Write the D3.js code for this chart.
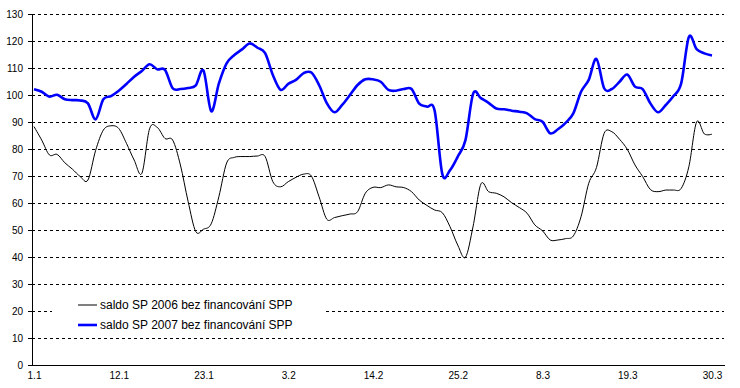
<!DOCTYPE html>
<html>
<head>
<meta charset="utf-8">
<script src="https://cdn.jsdelivr.net/npm/d3@7"></script>
<style>
  body { margin: 0; background: #fff; }
  svg { display: block; font-family: "Liberation Sans", Arial, sans-serif; }
</style>
</head>
<body>
<svg width="740" height="388"></svg>
<script>
// daily values 1.1. - 30.3.
const tickLabels = ["1.1", "12.1", "23.1", "3.2", "14.2", "25.2", "8.3", "19.3", "30.3"]
const tickEvery = 11
const seriesNames = ["saldo SP 2006 bez financování SPP", "saldo SP 2007 bez financování SPP"]

const saldo2006 = [
  88.3, 83.3, 77.8, 78.0, 74.9, 72.5, 69.8, 68.5, 79.5, 87.0,
  88.6, 87.6, 82.1, 75.9, 71.0, 87.5, 88.0, 83.9, 83.3, 74.1,
  60.6, 49.4, 50.3, 52.3, 62.4, 74.8, 76.9, 77.2, 77.2, 77.4,
  77.2, 67.9, 66.0, 67.9, 69.5, 70.7, 70.0, 62.3, 54.0, 54.6,
  55.3, 55.9, 56.8, 63.6, 65.8, 65.7, 66.7, 66.0, 65.7, 64.2,
  61.1, 59.1, 57.4, 56.4, 51.2, 44.4, 39.9, 51.5, 67.0, 64.2,
  63.6, 62.3, 60.1, 58.3, 56.2, 51.9, 49.7, 46.3, 46.3, 46.8,
  47.8, 54.9, 67.3, 73.1, 85.8, 86.4, 83.6, 79.9, 74.1, 69.8,
  65.0, 64.2, 64.8, 64.8, 65.4, 73.5, 90.0, 85.6, 85.5
]

const saldo2007 = [
  102.1, 101.2, 99.4, 100.1, 98.4, 98.1, 98.0, 96.9, 91.0, 98.4,
  99.6, 101.6, 104.1, 106.8, 108.9, 111.4, 109.5, 109.3, 102.5, 102.2,
  102.6, 103.6, 109.0, 94.0, 104.3, 111.7, 114.8, 116.9, 119.1, 117.5,
  115.5, 107.4, 101.9, 104.1, 105.6, 108.1, 108.3, 103.7, 97.0, 93.6,
  96.3, 100.0, 103.7, 105.8, 105.8, 104.9, 101.9, 101.6, 102.2, 102.2,
  96.8, 95.7, 94.2, 70.7, 72.2, 77.2, 83.3, 100.5, 98.8, 97.1,
  95.0, 94.7, 94.2, 93.8, 93.2, 91.1, 90.1, 85.8, 87.3, 89.7,
  93.2, 101.2, 105.6, 113.4, 102.5, 102.2, 104.9, 107.6, 103.1, 102.2,
  96.9, 93.6, 96.3, 99.6, 104.3, 121.5, 117.0, 115.4, 114.6
]

const plotLeft = 32
const plotRight = 724
const plotTop = 14
const plotBottom = 365

const xScale = d3.scaleLinear()
  .domain([0, saldo2006.length - 1])
  .range([34, 712])

const yScale = d3.scaleLinear()
  .domain([0, 130])
  .range([plotBottom, plotTop])

const svg = d3.select("svg")

// dashed gridlines
svg.append("g")
  .selectAll("line")
  .data(d3.range(10, 131, 10))
  .enter()
  .append("line")
  .attr("x1", plotLeft)
  .attr("x2", plotRight)
  .attr("y1", d => Math.round(yScale(d)) + 0.5)
  .attr("y2", d => Math.round(yScale(d)) + 0.5)
  .attr("stroke", "#000")
  .attr("stroke-dasharray", "3,3")
  .attr("shape-rendering", "crispEdges")

const line = d3.line()
  .x((d, i) => xScale(i))
  .y(d => yScale(d))
  .curve(d3.curveCardinal.tension(0))

svg.append("path")
  .datum(saldo2006)
  .attr("fill", "none")
  .attr("stroke", "#000")
  .attr("stroke-width", 1)
  .attr("d", line)

svg.append("path")
  .datum(saldo2007)
  .attr("fill", "none")
  .attr("stroke", "#0000ff")
  .attr("stroke-width", 2.6)
  .attr("stroke-linejoin", "round")
  .attr("d", line)

// y axis
const yAxis = d3.axisLeft(yScale)
  .tickValues(d3.range(0, 131, 10))
  .tickSize(4)
  .tickSizeOuter(0)
  .tickPadding(5)

svg.append("g")
  .attr("transform", `translate(${plotLeft}, 0)`)
  .call(yAxis)
  .call(g => g.selectAll("text").style("font-size", "10px").attr("fill", "#000"))

// x axis
const xAxis = d3.axisBottom(xScale)
  .tickValues(d3.range(0, saldo2006.length, tickEvery))
  .tickFormat((d, i) => tickLabels[i])
  .tickSize(0)
  .tickPadding(7)

svg.append("g")
  .attr("transform", `translate(0, ${plotBottom})`)
  .call(xAxis)
  .call(g => g.select(".domain").remove())
  .call(g => g.selectAll("text").style("font-size", "10px").attr("fill", "#000"))

svg.append("line")
  .attr("x1", plotLeft)
  .attr("x2", plotRight + 1)
  .attr("y1", plotBottom + 0.5)
  .attr("y2", plotBottom + 0.5)
  .attr("stroke", "#000")

// legend
const legend = svg.append("g").attr("transform", "translate(52, 292)")

legend.append("rect")
  .attr("width", 273)
  .attr("height", 41)
  .attr("fill", "#fff")

const legendRows = legend.selectAll("g")
  .data(seriesNames)
  .enter()
  .append("g")
  .attr("transform", (d, i) => `translate(0, ${13 + i * 20})`)

legendRows.append("line")
  .attr("x1", 26)
  .attr("x2", 45)
  .attr("stroke", (d, i) => i == 0 ? "#000" : "#0000ff")
  .attr("stroke-width", (d, i) => i == 0 ? 1 : 2.6)

legendRows.append("text")
  .attr("x", 48)
  .attr("dy", "0.35em")
  .style("font-size", "12px")
  .text(d => d)
</script>
</body>
</html>
